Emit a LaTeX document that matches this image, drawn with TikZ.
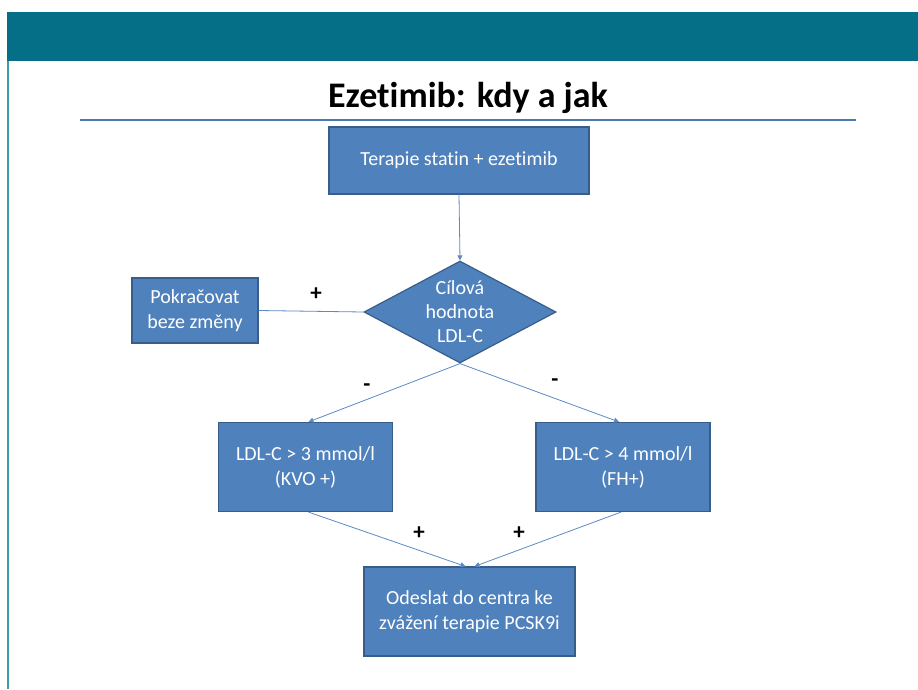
\documentclass[tikz,border=0pt]{standalone}
\usepackage{fontspec}
\setmainfont{Carlito}[Ligatures=NoCommon]
\usetikzlibrary{shapes.geometric,arrows.meta}
\definecolor{barteal}{HTML}{046F87}
\definecolor{edgeteal}{HTML}{3C9CAB}
\definecolor{boxfill}{HTML}{4F81BD}
\definecolor{boxborder}{HTML}{385D8A}
\definecolor{linecol}{HTML}{5B8AC4}
\definecolor{rulecol}{HTML}{4A78B0}
\begin{document}
\begin{tikzpicture}[x=1pt,y=-1pt,
  box/.style={draw=boxborder, fill=boxfill, line width=1.2pt, text=white,
    font=\fontsize{20}{25}\selectfont, align=center, inner sep=0pt},
  decision/.style={diamond, draw=boxborder, fill=boxfill, line width=1.2pt, inner sep=0pt},
  conn/.style={draw=linecol, line width=0.8pt},
  arr/.style={conn, -{Triangle[length=5pt,width=5pt]}},
  sign/.style={font=\bfseries\fontsize{23}{26}\selectfont, text=black, inner sep=0pt}]
\useasboundingbox (0,0) rectangle (918,689);
\fill[white] (0,0) rectangle (918,689);
% slide frame
\fill[barteal] (7,12) rectangle (918,61);
\draw[edgeteal, line width=2pt] (7.5,61) -- (7.5,689);
% title
\node[anchor=base, font=\bfseries\fontsize{36}{40}\selectfont, inner sep=0pt] (title) at (468,107) {Ezetimib: kdy a jak};
\coordinate (ruleL) at (80,120);
\coordinate (ruleR) at (856,120);
\draw[rulecol, line width=2.5pt] (ruleL) -- (ruleR);
% nodes
\node[box, minimum width=260pt, minimum height=67pt] (t) at (459,160.5) {\raisebox{-2pt}{Terapie statin + ezetimib}};
\node[box, minimum width=126pt, minimum height=65pt] (p) at (195,310.5) {Pokračovat\\beze změny};
\node[decision, minimum width=192pt, minimum height=102pt] (dia) at (460,312) {};
\node[text=white, font=\fontsize{20}{24}\selectfont, align=center, inner sep=0pt] (diatext) at (dia.center) {Cílová\\hodnota\\LDL-C};
\node[box, minimum width=174pt, minimum height=89pt] (l) at (305.5,467) {LDL-C > 3 mmol/l\\(KVO +)};
\node[box, minimum width=174pt, minimum height=89pt] (r) at (623,467) {LDL-C > 4 mmol/l\\(FH+)};
\node[box, minimum width=211pt, minimum height=89pt] (b) at (469.5,611.5) {Odeslat do centra ke\\zvážení terapie PCSK9i};
% connectors
\draw[arr] (t.south) -- (dia.north);
\draw[conn] (p.east) -- (dia.west);
\draw[arr] (dia.south) -- ([xshift=3pt]l.north);
\draw[arr] (dia.south) -- ([xshift=-4pt]r.north);
\draw[arr] ([xshift=3pt]l.south) -- ([xshift=-4pt]b.north);
\draw[arr] ([xshift=-2pt]r.south) -- ([xshift=5pt]b.north);
% labels
\node[sign] (s1) at (316,294) {+};
\node[sign] (s2) at (367,388) {-};
\node[sign] (s3) at (555,383) {-};
\node[sign] (s4) at (419,533) {+};
\node[sign] (s5) at (519,533) {+};
\end{tikzpicture}
\end{document}
